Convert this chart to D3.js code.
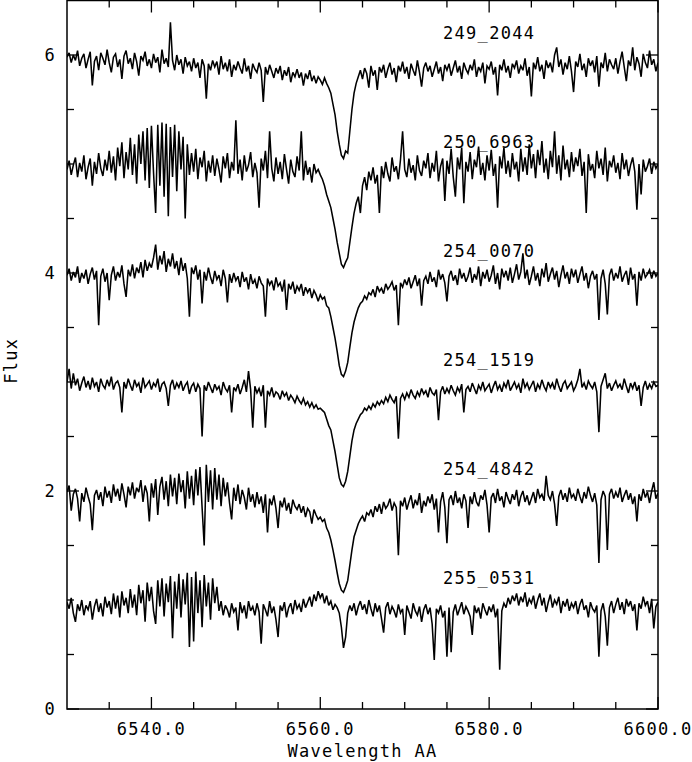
<!DOCTYPE html>
<html>
<head>
<meta charset="utf-8">
<script src="https://cdn.jsdelivr.net/npm/d3@7/dist/d3.min.js"></script>
<style>
  html, body { margin: 0; padding: 0; background: #fff; }
  svg { display: block; }
  text { font-family: "DejaVu Sans Mono", monospace; font-size: 17px; fill: #000; letter-spacing: 1.3px; }
</style>
</head>
<body>
<svg id="chart" width="692" height="762"></svg>
<script>
// ---------------- data ----------------
const lambdaStart = 6530;   // Angstrom, first sample
const lambdaStep = 0.25;    // Angstrom per sample

const names = ["249_2044", "250_6963", "254_0070", "254_1519", "254_4842", "255_0531"];
const labelLevels = [6, 5, 4, 3, 2, 1];

const xTickMajor = [6540, 6560, 6580, 6600];
const xTickLabels = ["6540.0", "6560.0", "6580.0", "6600.0"];
const yTickMajor = [0, 2, 4, 6];
const yTickLabels = ["0", "2", "4", "6"];

const s249_2044 = [
5.98,6.02,5.93,6.00,5.95,6.04,5.90,5.97,6.01,5.88,
5.96,6.03,5.72,5.94,5.99,5.86,6.02,5.97,5.91,6.05,
5.93,5.84,5.98,6.01,5.89,5.96,5.78,5.99,6.04,5.92,
5.97,5.87,6.02,5.94,5.81,5.99,5.95,6.03,5.90,5.96,
5.88,6.01,5.93,5.98,5.84,6.05,5.92,5.97,5.89,6.30,
5.95,5.86,6.00,5.91,5.96,5.83,5.98,5.90,5.94,5.85,
5.97,5.88,5.93,5.79,5.96,5.90,5.60,5.92,5.86,5.95,
5.89,5.94,5.82,5.99,5.87,5.93,5.85,5.96,5.80,5.91,
5.86,5.94,5.88,5.83,5.97,5.85,5.90,5.78,5.92,5.87,
5.84,5.93,5.86,5.57,5.89,5.82,5.91,5.85,5.79,5.88,
5.83,5.90,5.77,5.86,5.81,5.89,5.75,5.84,5.80,5.87,
5.79,5.84,5.72,5.83,5.78,5.86,5.76,5.81,5.74,5.80,
5.77,5.73,5.79,5.74,5.70,5.65,5.55,5.45,5.30,5.18,
5.08,5.05,5.12,5.10,5.30,5.50,5.65,5.74,5.80,5.86,
5.78,5.88,5.83,5.70,5.90,5.81,5.86,5.68,5.89,5.84,
5.91,5.79,5.87,5.93,5.82,5.88,5.75,5.90,5.85,5.94,
5.83,5.89,5.78,5.92,5.86,5.81,5.95,5.84,5.71,5.88,
5.93,5.85,5.90,5.80,5.87,5.94,5.83,5.89,5.76,5.91,
5.86,5.92,5.81,5.88,5.95,5.84,5.90,5.78,5.93,5.87,
5.83,5.91,5.86,5.96,5.80,5.89,5.85,5.93,5.74,5.90,
5.87,5.94,5.82,5.89,5.63,5.91,5.86,5.96,5.84,5.90,
5.79,5.92,5.88,5.95,5.83,5.90,5.86,5.97,5.81,5.89,
5.62,5.93,5.87,5.98,5.85,5.91,5.78,5.95,5.88,5.93,
5.84,6.00,6.07,5.89,5.96,5.82,5.93,5.87,5.99,5.85,
5.66,5.94,5.89,6.01,5.86,5.92,5.80,5.97,5.90,5.95,
5.84,5.99,5.71,5.93,5.88,6.02,5.85,5.96,5.91,5.87,
5.97,5.83,5.94,6.03,5.89,5.76,5.95,5.90,6.07,5.86,
5.98,5.92,5.80,6.01,5.93,5.88,6.04,5.91,5.96,5.85,5.93];

const s250_6963 = [
4.95,5.03,4.90,4.99,5.06,4.88,5.01,4.93,5.08,4.86,
4.97,5.05,4.80,5.02,4.91,5.10,4.96,4.89,5.04,4.94,
5.12,4.92,5.07,4.85,5.15,4.98,5.20,4.87,5.11,4.95,
5.24,4.90,5.18,4.82,5.27,5.00,5.30,4.85,5.33,4.78,
5.35,4.92,4.55,5.36,4.80,5.38,4.70,5.37,4.52,5.34,
4.88,5.36,4.75,5.30,4.95,5.25,4.50,5.18,4.90,5.10,
4.93,5.14,4.86,5.06,4.97,5.12,4.84,5.03,4.92,5.08,
4.89,5.05,4.95,4.83,5.07,4.96,5.10,4.87,5.02,4.94,
5.40,4.91,5.04,4.85,5.08,4.93,4.99,5.11,4.88,5.01,
4.92,4.60,5.05,4.94,5.12,4.87,5.30,4.96,4.84,5.06,
4.91,5.02,4.86,5.09,4.95,4.82,5.04,4.93,4.88,5.07,
4.94,5.30,4.85,5.03,4.90,4.97,4.83,5.00,4.92,4.95,
4.90,4.86,4.80,4.72,4.66,4.60,4.50,4.40,4.28,4.18,
4.08,4.05,4.10,4.14,4.28,4.42,4.55,4.64,4.70,4.55,
4.80,4.88,4.76,4.93,4.85,4.97,4.82,4.90,4.55,4.98,
4.87,5.02,4.91,4.84,5.06,4.93,4.98,4.86,5.04,5.30,
4.95,4.88,5.05,4.92,4.99,4.85,5.08,4.94,4.89,5.03,
4.96,5.10,4.87,5.01,4.93,5.12,4.84,4.98,5.05,4.66,
5.03,4.91,5.14,4.88,4.70,5.06,4.95,5.15,4.64,5.02,
4.93,5.11,4.86,5.04,4.97,5.16,4.90,5.01,4.85,5.08,
4.94,5.13,4.89,5.00,4.60,5.07,4.96,5.15,4.91,5.03,
4.88,5.10,4.95,5.02,4.84,5.14,4.93,5.06,4.90,5.18,
4.96,5.09,4.87,5.13,4.99,5.21,4.92,5.05,4.86,5.12,
4.97,5.30,4.91,5.08,4.85,5.17,4.95,5.04,4.88,5.11,
4.93,5.06,4.98,5.14,4.89,5.02,4.55,5.09,4.94,5.00,
4.87,5.12,4.96,5.05,4.90,5.15,4.84,5.03,4.97,5.08,
4.92,5.01,4.86,5.10,4.95,5.04,4.89,4.99,5.06,4.93,
4.58,5.00,4.72,5.04,4.93,4.98,5.05,4.91,5.02,4.96,5.00];

const s254_0070 = [
3.98,4.04,3.93,4.01,3.96,4.06,3.91,4.00,3.95,4.03,
3.90,3.99,4.05,3.94,4.02,3.52,3.97,4.04,3.92,4.00,
3.75,3.98,4.06,3.93,4.01,3.96,4.07,3.90,3.78,4.03,
3.97,4.08,3.95,4.05,4.00,4.10,3.96,4.12,4.02,4.09,
4.05,4.14,4.26,4.03,4.16,4.08,4.20,4.01,4.13,4.06,
4.18,4.04,4.11,3.98,4.14,4.02,4.09,3.95,3.60,4.05,
3.99,4.07,3.94,4.03,3.72,4.01,3.93,4.05,3.96,3.90,
4.02,3.94,3.98,3.88,4.03,3.95,3.73,3.99,3.91,4.00,
3.93,3.97,3.87,4.01,3.92,3.96,3.85,3.99,3.90,3.94,
3.86,3.97,3.91,3.88,3.60,3.95,3.89,3.93,3.84,3.96,
3.88,3.91,3.83,3.94,3.66,3.90,3.85,3.92,3.81,3.88,
3.84,3.90,3.79,3.87,3.82,3.86,3.77,3.84,3.80,3.74,
3.80,3.76,3.78,3.70,3.68,3.60,3.50,3.40,3.28,3.15,
3.07,3.05,3.10,3.18,3.32,3.45,3.55,3.62,3.68,3.72,
3.74,3.79,3.76,3.82,3.80,3.85,3.78,3.88,3.83,3.86,
3.81,3.90,3.85,3.88,3.92,3.84,3.89,3.52,3.91,3.87,
3.94,3.89,3.96,3.86,3.92,3.98,3.88,3.95,3.70,3.93,
3.97,3.90,4.01,3.92,3.96,3.87,4.03,3.94,3.99,3.91,
3.74,3.97,4.02,3.93,3.98,3.89,4.04,3.95,4.00,3.92,
3.97,4.05,3.91,3.99,3.94,4.06,3.88,4.01,3.95,4.03,
3.92,3.98,4.07,3.90,4.00,3.85,4.04,3.96,4.02,3.93,
4.05,3.91,3.99,4.08,3.94,4.01,4.18,3.95,4.03,3.89,
3.97,4.06,3.93,4.00,3.88,4.04,3.96,4.09,3.92,3.99,
4.05,3.94,4.02,3.87,3.98,4.07,3.95,4.01,3.90,4.04,
3.96,4.03,3.91,3.99,4.06,3.93,4.00,3.86,3.97,4.02,
3.94,3.99,3.57,3.95,4.03,3.90,3.62,3.98,4.04,3.93,
4.00,3.95,4.06,3.92,3.98,4.02,3.89,4.05,3.94,3.99,
3.70,4.01,3.93,4.04,3.96,3.99,4.03,3.95,4.02,3.97,4.00];

const s254_1519 = [
3.00,3.12,2.94,3.08,2.97,3.03,2.92,2.99,3.05,2.95,
3.01,2.93,3.04,2.96,3.00,2.91,3.03,2.97,2.94,3.02,
2.96,3.05,2.93,2.99,3.01,2.95,2.72,3.00,2.94,3.03,
2.97,2.92,3.02,2.96,2.99,2.90,3.04,2.95,2.98,3.01,
2.93,2.99,2.96,3.03,2.91,2.98,3.00,2.94,2.78,2.97,
3.02,2.93,2.99,2.95,3.01,2.92,2.97,3.00,2.89,2.96,
2.99,2.91,2.98,2.94,2.50,2.97,2.92,3.00,2.95,2.90,
2.98,2.93,2.96,2.88,3.00,2.94,2.91,2.97,2.72,2.95,
2.92,2.98,2.89,2.95,3.02,2.91,3.10,2.93,2.58,2.96,
2.90,2.94,2.87,2.97,2.58,2.92,2.88,2.95,2.86,2.91,
2.89,2.84,2.92,2.87,2.90,2.83,2.88,2.85,2.81,2.87,
2.83,2.80,2.85,2.79,2.82,2.77,2.81,2.76,2.79,2.75,
2.76,2.74,2.72,2.66,2.60,2.56,2.46,2.36,2.24,2.12,
2.06,2.04,2.09,2.18,2.32,2.46,2.56,2.62,2.66,2.70,
2.72,2.76,2.74,2.78,2.75,2.80,2.77,2.82,2.79,2.83,
2.80,2.86,2.82,2.88,2.84,2.81,2.87,2.48,2.85,2.89,
2.84,2.90,2.86,2.93,2.88,2.85,2.91,2.87,2.94,2.89,
2.92,2.86,2.95,2.90,2.88,2.93,2.65,2.91,2.96,2.89,
2.94,2.90,2.97,2.92,2.88,2.95,2.91,2.98,2.72,2.93,
2.96,2.91,2.99,2.94,2.89,2.97,2.93,3.00,2.92,2.95,
2.98,2.90,2.96,3.01,2.93,2.97,2.91,2.99,2.95,3.02,
2.92,2.96,3.00,2.94,2.98,2.90,3.03,2.95,2.99,2.93,
2.97,3.01,2.91,2.98,2.94,3.02,2.96,2.92,3.00,2.95,
2.99,2.93,3.03,2.96,2.91,2.98,3.01,2.94,2.97,3.00,
2.92,2.96,3.02,3.12,2.95,2.99,2.93,3.01,2.97,2.94,
3.00,2.91,2.54,2.96,3.02,3.08,2.94,2.99,2.92,2.97,
3.01,2.95,2.98,2.93,3.03,2.96,2.90,2.99,2.94,3.00,
2.92,2.97,2.78,2.95,3.01,2.93,2.98,2.94,3.00,2.96,2.97];

const s254_4842 = [
1.99,2.05,1.82,1.97,2.02,1.93,1.72,1.98,1.90,2.03,
1.95,1.88,1.64,1.96,2.01,1.92,1.99,1.86,2.04,1.94,
2.00,1.89,2.06,1.95,2.02,1.91,2.07,1.97,1.85,2.04,
1.96,2.08,1.93,2.03,1.99,2.10,1.90,2.05,1.98,1.72,
2.07,1.94,2.11,1.78,2.04,2.13,1.92,2.09,1.86,2.15,
1.95,2.12,1.88,2.16,1.99,2.10,1.84,2.18,1.93,2.14,
1.87,2.20,1.96,2.22,1.85,1.50,2.24,1.90,2.19,1.83,
2.21,1.92,2.15,1.86,2.12,1.95,2.08,1.89,1.74,2.03,
1.91,2.06,1.88,2.01,1.94,1.83,2.03,1.90,1.97,1.85,
1.99,1.88,1.95,1.80,1.97,1.62,1.93,1.87,1.96,1.84,
1.66,1.91,1.85,1.94,1.82,1.89,1.79,1.92,1.86,1.83,
1.88,1.80,1.86,1.76,1.84,1.81,1.70,1.83,1.78,1.74,
1.76,1.72,1.74,1.66,1.62,1.55,1.46,1.36,1.25,1.15,
1.09,1.07,1.12,1.18,1.32,1.46,1.58,1.64,1.70,1.74,
1.77,1.72,1.80,1.78,1.83,1.76,1.86,1.81,1.88,1.79,
1.90,1.84,1.87,1.93,1.82,1.89,1.85,1.41,1.91,1.86,
1.94,1.83,1.90,1.96,1.84,1.92,1.87,1.98,1.80,1.91,
1.86,1.95,1.89,1.97,1.83,1.93,1.62,1.90,1.99,1.85,
1.52,1.92,1.96,1.87,2.00,1.89,1.94,1.84,1.97,1.91,
1.66,1.95,1.88,1.99,1.90,1.86,1.96,1.92,2.01,1.87,
1.62,1.94,1.98,1.89,2.02,1.91,1.95,1.85,1.99,1.93,
1.88,1.97,1.92,2.01,1.86,1.95,2.00,1.90,1.96,1.87,
1.93,1.99,1.89,2.02,1.94,1.97,1.91,2.14,1.96,1.92,
2.00,1.88,1.68,1.95,2.01,1.92,1.98,1.90,2.03,1.94,
1.97,1.91,2.02,1.95,1.89,1.99,1.93,2.04,1.96,1.90,
1.98,1.87,1.34,1.92,2.00,1.95,1.46,1.97,2.02,1.93,
1.99,1.94,2.03,1.90,1.96,2.01,1.92,1.98,1.88,1.95,
1.72,1.97,1.91,2.02,1.94,1.99,1.89,2.00,2.08,1.93,1.98];

const s255_0531 = [
0.98,0.92,1.02,0.88,0.80,0.96,0.90,1.00,0.86,0.95,
0.91,0.99,0.82,0.94,1.01,0.89,0.97,0.85,1.03,0.93,
0.99,0.87,1.06,0.92,1.04,0.84,1.08,0.95,1.02,0.88,
1.10,0.93,1.05,0.86,1.14,0.97,1.09,0.80,1.16,0.99,
1.12,0.90,0.78,1.18,0.94,1.20,0.85,1.15,0.98,1.22,
0.65,1.17,0.92,1.24,0.84,1.19,0.96,1.25,0.57,1.21,
0.62,1.26,0.88,1.18,0.75,1.23,0.94,1.16,0.82,1.20,
0.97,1.12,0.90,0.99,0.86,0.95,0.91,0.84,0.97,0.89,
0.93,0.72,0.98,0.88,0.95,0.83,0.99,0.90,0.94,0.86,
0.97,0.89,0.60,0.96,0.91,0.85,0.99,0.88,0.94,0.82,
0.66,0.95,0.90,0.98,0.84,0.93,0.97,0.87,1.00,0.92,
0.96,0.89,1.01,0.93,0.98,1.03,0.94,1.05,0.99,1.08,
1.02,1.06,0.97,1.04,0.95,0.99,0.91,0.96,0.93,0.88,
0.75,0.56,0.66,0.88,0.95,0.90,0.97,0.86,0.94,0.99,
0.91,0.96,0.87,1.00,0.92,0.85,0.97,0.89,0.95,0.83,
0.70,0.93,0.98,0.87,0.94,0.90,0.84,0.96,0.88,0.92,
0.68,0.95,0.89,0.83,0.97,0.90,0.86,0.94,0.80,0.91,
0.96,0.87,0.93,0.78,0.45,0.92,0.88,0.95,0.84,0.90,
0.48,0.93,0.52,0.89,0.96,0.86,0.92,0.98,0.87,0.94,
0.90,0.85,0.68,0.95,0.88,0.93,0.83,0.97,0.91,0.86,
0.94,0.89,0.96,0.84,0.92,0.36,0.90,0.97,0.93,1.02,
0.96,1.04,0.99,1.06,0.95,1.03,0.98,1.07,0.94,1.01,
0.97,1.04,0.92,1.00,1.06,0.95,1.02,0.89,0.98,1.05,
0.93,1.00,0.96,1.03,0.88,0.99,0.94,1.01,0.90,0.97,
0.93,0.99,0.87,0.96,1.01,0.91,0.95,0.84,0.98,0.92,
0.89,0.95,0.48,0.90,0.97,0.85,0.58,0.93,0.99,0.88,
0.96,1.02,0.91,0.98,0.87,1.01,0.94,0.99,0.90,0.96,
0.72,0.97,0.92,1.03,0.95,0.99,0.88,1.01,0.74,0.94,0.98];

const spectra = [s249_2044, s250_6963, s254_0070, s254_1519, s254_4842, s255_0531];

// ---------------- drawing ----------------
const svg = d3.select("#chart");
const plotLeft = 67, plotRight = 658, plotTop = 0.5, plotBottom = 709;

const x = d3.scaleLinear().domain([6530, 6600]).range([plotLeft, plotRight]);
const y = d3.scaleLinear().domain([0, 6.5]).range([plotBottom, plotTop]);

const majorLen = 12, minorLen = 7;

svg.append("clipPath").attr("id", "plotclip")
  .append("rect").attr("x", plotLeft).attr("y", plotTop)
  .attr("width", plotRight - plotLeft).attr("height", plotBottom - plotTop);

const line = d3.line()
  .x((d, i) => x(lambdaStart + i * lambdaStep))
  .y(d => y(d));

const g = svg.append("g").attr("clip-path", "url(#plotclip)");
spectra.forEach(s => {
  g.append("path")
    .datum(s)
    .attr("d", line)
    .attr("fill", "none")
    .attr("stroke", "#000")
    .attr("stroke-width", 1.55)
    .attr("stroke-linejoin", "miter")
    .attr("stroke-miterlimit", 3);
});

svg.append("rect")
  .attr("x", plotLeft).attr("y", plotTop)
  .attr("width", plotRight - plotLeft).attr("height", plotBottom - plotTop)
  .attr("fill", "none").attr("stroke", "#000").attr("stroke-width", 1.5);

const ticks = svg.append("g").attr("stroke", "#000").attr("stroke-width", 1.3);
const xMinor = d3.range(6535, 6600, 5).filter(v => !xTickMajor.includes(v));
xMinor.forEach(v => {
  ticks.append("line").attr("x1", x(v)).attr("x2", x(v)).attr("y1", plotBottom).attr("y2", plotBottom - minorLen);
  ticks.append("line").attr("x1", x(v)).attr("x2", x(v)).attr("y1", plotTop).attr("y2", plotTop + minorLen);
});
xTickMajor.forEach(v => {
  ticks.append("line").attr("x1", x(v)).attr("x2", x(v)).attr("y1", plotBottom).attr("y2", plotBottom - majorLen);
  ticks.append("line").attr("x1", x(v)).attr("x2", x(v)).attr("y1", plotTop).attr("y2", plotTop + majorLen);
});
const yMinor = d3.range(0.5, 6.5, 0.5).filter(v => !yTickMajor.includes(v));
yMinor.forEach(v => {
  ticks.append("line").attr("x1", plotLeft).attr("x2", plotLeft + minorLen).attr("y1", y(v)).attr("y2", y(v));
  ticks.append("line").attr("x1", plotRight).attr("x2", plotRight - minorLen).attr("y1", y(v)).attr("y2", y(v));
});
yTickMajor.forEach(v => {
  ticks.append("line").attr("x1", plotLeft).attr("x2", plotLeft + majorLen).attr("y1", y(v)).attr("y2", y(v));
  ticks.append("line").attr("x1", plotRight).attr("x2", plotRight - majorLen).attr("y1", y(v)).attr("y2", y(v));
});

xTickMajor.forEach((v, i) => {
  svg.append("text").attr("x", x(v)).attr("y", 735)
    .attr("text-anchor", "middle").text(xTickLabels[i]);
});
yTickMajor.forEach((v, i) => {
  svg.append("text").attr("x", plotLeft - 11).attr("y", y(v) + 6)
    .attr("text-anchor", "end").text(yTickLabels[i]);
});

svg.append("text").attr("x", (plotLeft + plotRight) / 2).attr("y", 757)
  .attr("text-anchor", "middle").text("Wavelength AA");
svg.append("text")
  .attr("transform", `translate(17, ${(plotTop + plotBottom) / 2 + 6}) rotate(-90)`)
  .attr("text-anchor", "middle").text("Flux");

names.forEach((n, i) => {
  svg.append("text").attr("x", 443).attr("y", y(labelLevels[i]) - 16)
    .attr("text-anchor", "start").text(n);
});
</script>
</body>
</html>
